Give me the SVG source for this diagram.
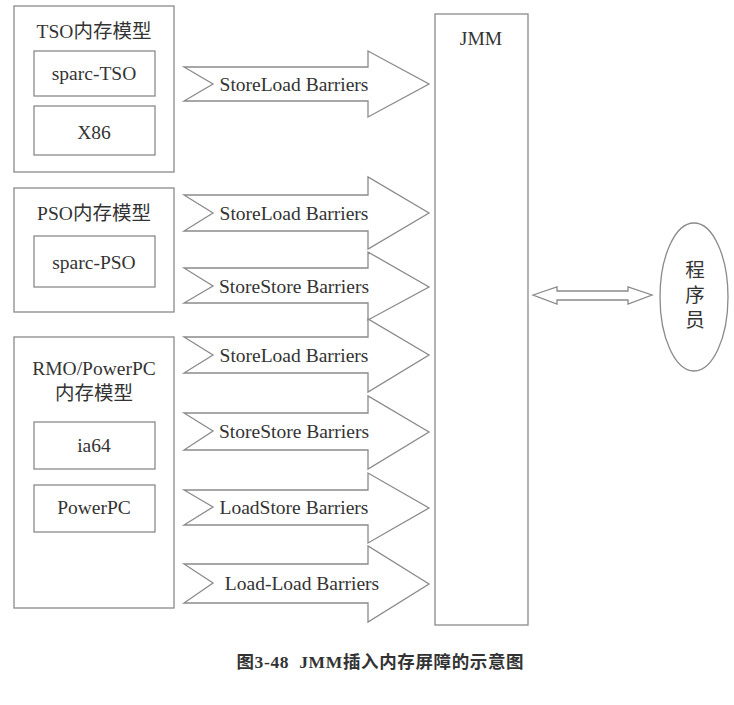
<svg xmlns="http://www.w3.org/2000/svg" width="734" height="705" viewBox="0 0 734 705">
<style>
.box{fill:#fff;stroke:#8a8a8a;stroke-width:1.3}
.arr{fill:#fff;stroke:#8a8a8a;stroke-width:1.3;stroke-linejoin:miter}
.t{font-family:"Liberation Serif","Noto Sans CJK SC",serif;font-size:19.5px;fill:#333;text-anchor:middle;dominant-baseline:central}
.cap{font-family:"Liberation Serif","Noto Sans CJK SC",sans-serif;font-size:17.5px;font-weight:bold;fill:#333;text-anchor:middle;dominant-baseline:central}
</style>
<rect width="734" height="705" fill="#fff"/>
<g id="tso">
<rect class="box" x="14" y="6" width="160" height="166"/>
<text class="t" x="94" y="31">TSO内存模型</text>
</g>
<g id="sparc-tso">
<rect class="box" x="34" y="51" width="121" height="45"/>
<text class="t" x="94" y="73">sparc-TSO</text>
</g>
<g id="x86">
<rect class="box" x="34" y="106" width="121" height="49"/>
<text class="t" x="94" y="132">X86</text>
</g>
<g id="pso">
<rect class="box" x="14" y="188" width="160" height="124"/>
<text class="t" x="94" y="213">PSO内存模型</text>
</g>
<g id="sparc-pso">
<rect class="box" x="34" y="236" width="121" height="51"/>
<text class="t" x="94" y="262">sparc-PSO</text>
</g>
<g id="rmo">
<rect class="box" x="14" y="337" width="160" height="271"/>
<text class="t" x="94" y="368">RMO/PowerPC</text>
<text class="t" x="94" y="393">内存模型</text>
</g>
<g id="ia64">
<rect class="box" x="34" y="422" width="121" height="47"/>
<text class="t" x="94" y="445">ia64</text>
</g>
<g id="powerpc">
<rect class="box" x="34" y="485" width="121" height="47"/>
<text class="t" x="94" y="507">PowerPC</text>
</g>
<g id="jmm">
<rect class="box" x="435" y="14" width="93" height="611"/>
<text class="t" x="481" y="38">JMM</text>
</g>
<g id="programmer">
<ellipse class="box" cx="694" cy="297" rx="34" ry="74"/>
<text class="t" x="695" y="270">程</text>
<text class="t" x="695" y="295">序</text>
<text class="t" x="695" y="320">员</text>
</g>
<g id="connectors">
<path class="arr" d="M184,67 L368,67 L368,51 L429,84 L368,117 L368,101 L184,101 L213,84 Z"/>
<text class="t" x="294" y="84">StoreLoad Barriers</text>
<path class="arr" d="M184,195 L368,195 L368,177 L429,213 L368,249 L368,231 L184,231 L213,213 Z"/>
<text class="t" x="294" y="213">StoreLoad Barriers</text>
<path class="arr" d="M184,268 L368,268 L368,252 L429,287 L368,320 L368,303 L184,303 L213,286 Z"/>
<text class="t" x="294" y="286">StoreStore Barriers</text>
<path class="arr" d="M184,337 L368,337 L368,319 L429,355 L368,392 L368,373 L184,373 L213,355 Z"/>
<text class="t" x="294" y="355">StoreLoad Barriers</text>
<path class="arr" d="M184,413 L368,413 L368,396 L429,432 L368,469 L368,450 L184,450 L213,431 Z"/>
<text class="t" x="294" y="431">StoreStore Barriers</text>
<path class="arr" d="M184,490 L368,490 L368,473 L429,508 L368,543 L368,525 L184,525 L213,507 Z"/>
<text class="t" x="294" y="507">LoadStore Barriers</text>
<path class="arr" d="M184,564 L368,564 L368,546 L429,584 L368,622 L368,603 L184,603 L213,583 Z"/>
<text class="t" x="302" y="583">Load-Load Barriers</text>
<path class="arr" d="M533,295 L557,287 L557,291 L628,291 L628,287 L652,295 L628,304 L628,300 L557,300 L557,304 Z"/>
</g>
<text class="cap" x="380" y="662" xml:space="preserve" textLength="287" lengthAdjust="spacing">图3-48  JMM插入内存屏障的示意图</text>
</svg>
